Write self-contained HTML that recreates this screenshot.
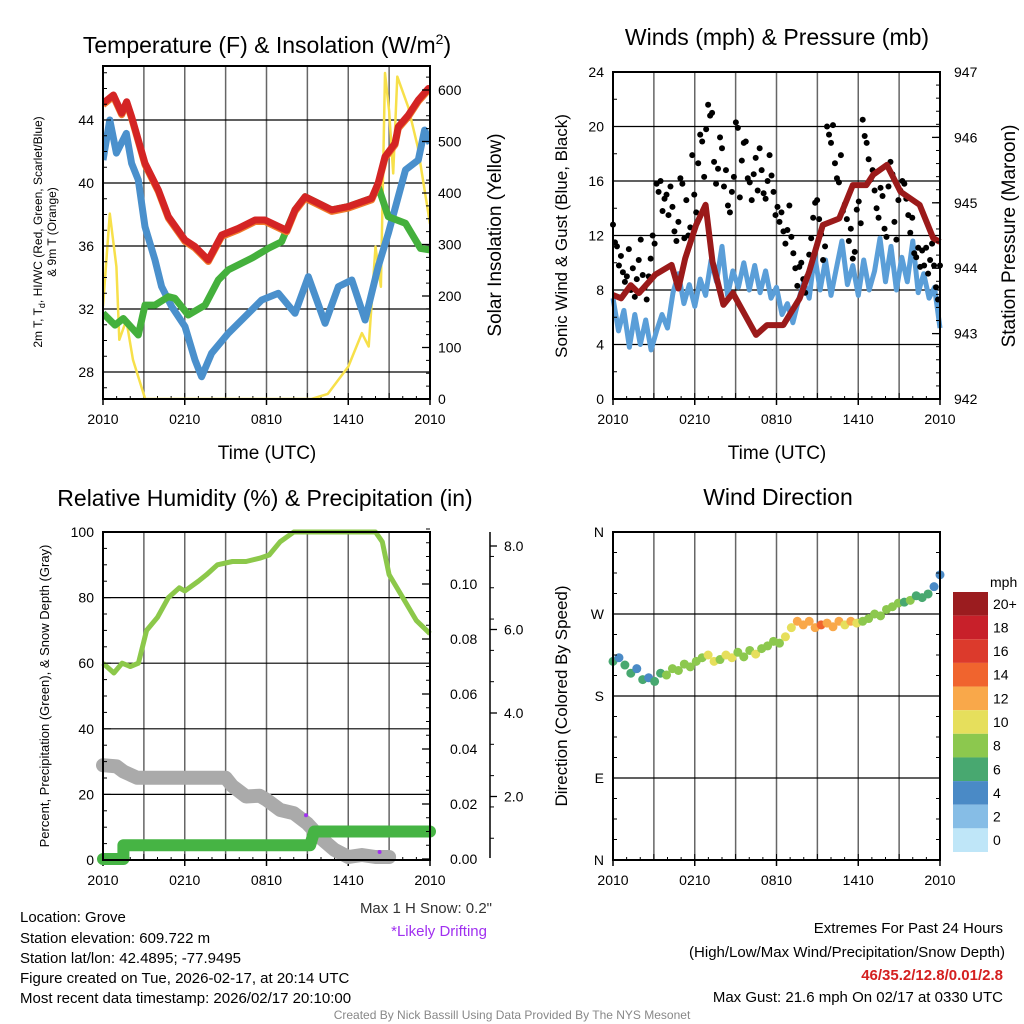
<!DOCTYPE html>
<html><head><meta charset="utf-8">
<style>
html,body{margin:0;padding:0;background:#fff;}
svg{display:block;font-family:"Liberation Sans",sans-serif;}
</style></head>
<body>
<svg id="c" width="1024" height="1024" viewBox="0 0 1024 1024">
<text x="267" y="53" font-size="23" text-anchor="middle">Temperature (F) &amp; Insolation (W/m<tspan font-size="14" dy="-9">2</tspan><tspan dy="9">)</tspan></text>
<text x="777" y="45" font-size="23" text-anchor="middle">Winds (mph) &amp; Pressure (mb)</text>
<text x="265" y="506" font-size="23" text-anchor="middle">Relative Humidity (%) &amp; Precipitation (in)</text>
<text x="778" y="505" font-size="23" text-anchor="middle">Wind Direction</text>

<text transform="translate(42,232) rotate(-90)" font-size="12" text-anchor="middle">2m T, T<tspan font-size="9" dy="3">d</tspan><tspan dy="-3">, HI/WC (Red, Green, Scarlet/Blue)</tspan></text>
<text transform="translate(56,232) rotate(-90)" font-size="12" text-anchor="middle">&amp; 9m T (Orange)</text>
<text transform="translate(501,235) rotate(-90)" font-size="19" text-anchor="middle">Solar Insolation (Yellow)</text>
<text transform="translate(567,236) rotate(-90)" font-size="17" text-anchor="middle">Sonic Wind &amp; Gust (Blue, Black)</text>
<text transform="translate(1015,236) rotate(-90)" font-size="19" text-anchor="middle">Station Pressure (Maroon)</text>
<text transform="translate(49,696) rotate(-90)" font-size="13" text-anchor="middle">Percent, Precipitation (Green), &amp; Snow Depth (Gray)</text>
<text transform="translate(567,696) rotate(-90)" font-size="17" text-anchor="middle">Direction (Colored By Speed)</text>

<text x="267" y="459" font-size="19" text-anchor="middle">Time (UTC)</text>
<text x="777" y="459" font-size="19" text-anchor="middle">Time (UTC)</text>

<g font-size="15">
<text x="20" y="922">Location: Grove</text>
<text x="20" y="943">Station elevation: 609.722 m</text>
<text x="20" y="963">Station lat/lon: 42.4895; -77.9495</text>
<text x="20" y="983">Figure created on Tue, 2026-02-17, at 20:14 UTC</text>
<text x="20" y="1003">Most recent data timestamp: 2026/02/17 20:10:00</text>
</g>
<text x="492" y="913" font-size="15" fill="#333" text-anchor="end">Max 1 H Snow: 0.2"</text>
<text x="487" y="936" font-size="15" fill="#a030f0" text-anchor="end">*Likely Drifting</text>
<g font-size="15" text-anchor="end">
<text x="1003" y="933">Extremes For Past 24 Hours</text>
<text x="1005" y="957">(High/Low/Max Wind/Precipitation/Snow Depth)</text>
<text x="1003" y="980" font-weight="bold" fill="#d42020">46/35.2/12.8/0.01/2.8</text>
<text x="1003" y="1002">Max Gust: 21.6 mph On 02/17 at 0330 UTC</text>
</g>
<text x="512" y="1019" font-size="12" fill="#888" text-anchor="middle">Created By Nick Bassill Using Data Provided By The NYS Mesonet</text>
</svg>
<script>
// ---- data ----
const xTickLabels = ["2010","0210","0810","1410","2010"];
const tempTicks = [28,32,36,40,44];
const solarTicks = [0,100,200,300,400,500,600];
const windTicks = [0,4,8,12,16,20,24];
const presTicks = [942,943,944,945,946,947];
const rhTicks = [0,20,40,60,80,100];
const precipTicks = ["0.00","0.02","0.04","0.06","0.08","0.10"];
const snowTicks = ["2.0","4.0","6.0","8.0"];
const dirTicks = ["N","E","S","W","N"];
const cbLabels = ["20+","18","16","14","12","10","8","6","4","2","0"];
const cbColors = ["#9b1c1f","#c8202a","#dc3a2c","#f0642e","#f9a84a","#e6df5c","#8cc84e","#48a870","#4a8ac6","#86bde6","#bfe6f8"];

const redT_h = [0,0.76,1.37,1.74,2.1,3.08,4.06,4.8,6.02,6.75,7.73,8.71,9.93,11.16,11.89,13.48,14.09,14.83,16.78,18.0,19.72,20.2,20.7,21.43,21.67,22.4,23.14,23.88,24];
const redT_v = [45.06,45.59,44.43,45.16,44.21,41.25,39.56,37.86,36.38,35.96,35.11,36.7,37.12,37.65,37.65,37.0,38.29,39.13,38.29,38.5,39.03,40.0,41.67,42.52,43.57,44.3,45.27,46.0,46.0];
const dewT_h = [0,0.88,1.49,2.59,3.08,3.82,4.8,5.28,6.26,7.49,8.46,9.2,10.91,12.13,13.11,14.09,14.83,16.78,18.0,19.72,20.2,20.94,22.2,23.3,24];
const dewT_v = [31.73,30.98,31.4,30.35,32.25,32.25,32.78,32.68,31.62,32.25,33.84,34.48,35.22,35.85,36.27,38.29,39.13,38.29,38.5,39.03,39.77,37.86,37.44,35.85,35.75];
const wcT_h = [0,0.5,0.98,1.71,2.1,2.59,3.08,3.82,4.3,5.04,6.02,6.75,7.24,7.97,9.2,10.42,11.65,12.87,14.09,15.07,16.3,17.28,18.26,19.24,20.2,20.94,22.2,23.14,23.6,24];
const wcT_v = [41.46,44.0,41.9,43.15,41.25,40.19,37.22,35.11,33.42,32.15,30.88,28.76,27.7,29.19,30.46,31.51,32.57,33.0,31.73,34.05,31.09,33.42,33.84,31.3,34.69,36.8,40.83,41.46,43.36,42.5];
const solar_h = [0,0.5,0.98,1.2,1.71,2.2,3.1,15.3,16.5,18.0,19.0,19.5,20.0,20.4,20.7,21.0,21.3,21.6,22.4,23.1,24];
const solar_v = [180,360,257,115,153,76,0,0,10,63,128,102,296,218,633,560,438,626,567,490,340];

// sonic wind, evenly spaced in time over 24 h
const sonic_v = [7.4,5.0,6.5,3.8,6.2,4.0,5.8,3.6,5.0,6.2,5.2,7.8,9.2,7.0,8.4,6.8,8.8,7.6,10.2,8.6,11.2,7.6,9.4,8.2,10.0,8.0,9.8,7.8,9.4,7.4,8.2,6.2,7.0,5.6,7.2,8.6,7.4,10.6,8.0,10.2,7.6,9.6,11.6,8.4,9.8,7.6,10.2,8.0,9.4,11.8,8.6,11.2,8.0,10.4,8.6,11.6,7.8,9.2,7.4,8.2,5.2];
const pres_h = [0,0.6,1.3,1.9,3.1,4.3,4.8,5.3,6.1,6.8,7.3,8.1,8.8,10.5,11.3,12.5,13.7,14.4,15.4,16.6,17.6,18.6,19.1,20.1,21.1,22.5,23.5,24];
const pres_v = [943.59,943.54,943.74,943.62,943.9,944.05,943.69,944.15,944.66,944.97,944.1,943.44,943.62,942.98,943.13,943.13,943.54,943.95,944.66,944.76,945.27,945.27,945.43,945.58,945.17,944.97,944.46,944.4];
const gusts = [12.8,11.5,11.2,9.8,10.5,9.3,8.6,9.0,11.0,8.0,9.6,7.5,8.8,10.2,11.7,9.1,8.2,7.3,9.0,10.3,12.0,11.4,
15.8,15.2,16.0,13.8,14.7,15.0,13.5,15.6,14.1,12.3,11.6,13.0,16.2,15.8,11.8,14.6,12.0,12.6,17.9,15.0,13.7,
17.3,19.4,18.9,16.3,19.8,21.6,20.8,21.0,17.4,15.8,16.9,19.2,18.4,15.6,16.8,14.2,13.7,15.2,16.3,20.3,19.9,14.8,17.5,
18.8,18.9,16.2,15.9,14.6,16.5,17.7,15.3,18.4,16.8,15.1,14.7,16.0,17.9,16.4,15.2,13.5,14.1,
13.0,13.7,12.3,11.4,12.4,14.2,11.9,10.7,9.6,8.3,9.7,10.0,8.8,7.8,9.0,10.6,11.8,13.3,14.4,14.6,13.2,12.1,10.2,11.2,
20.0,19.4,18.8,20.1,17.3,16.2,15.9,17.9,13.8,14.3,13.2,11.6,12.5,10.3,10.8,13.9,14.5,12.9,
20.5,19.3,18.8,17.6,16.1,16.8,15.3,14.0,13.3,15.5,14.9,12.5,11.9,15.6,17.4,16.5,13.0,11.7,14.6,15.3,16.0,
15.8,14.7,13.5,12.2,13.3,10.7,10.4,11.1,9.7,10.9,9.8,11.1,9.2,10.2,11.4,9.8,8.2,7.3,9.8];

const rh_h = [0,0.8,1.4,2,2.6,3.2,4,4.8,5.6,6,7,7.6,8.4,9.5,10.5,11.5,12.2,13,14,16,20,20.5,21,22,23,24];
const rh_v = [60,57,60,59,60,70,74,80,83,82,85,87,90,91,91,92,93,97,100,100,100,97,87,80,73,69];
const precip_h = [0,1.5,1.5,15.2,15.5,24];
const precip_v = [0,0,0.005,0.005,0.01,0.01];
const snow_h = [0,1,1.5,2.5,9,9.5,10.5,11.5,12,13,14,15,16,17,18,19,20,21];
const snow_v = [2.75,2.72,2.6,2.45,2.45,2.25,2.0,2.02,1.92,1.68,1.6,1.35,1.0,0.72,0.55,0.6,0.55,0.55];
const drift_h = [14.9,20.3];
const drift_v = [1.55,0.67];

const dir_v = [218,222,214,205,210,198,200,196,205,203,210,208,215,212,218,222,225,218,220,225,222,228,223,230,226,232,235,240,238,245,255,262,258,262,255,258,260,256,262,258,262,260,262,265,270,268,275,278,282,283,285,290,288,292,300,313];
const dir_s = [5,4,6,5,4,5,4,6,6,7,7,8,8,7,8,7,9,10,8,9,10,8,7,8,9,8,8,7,8,9,10,11,12,11,12,13,12,11,12,10,11,9,8,7,7,8,7,8,7,6,7,6,5,6,4,4];

// ---- helpers ----
const NS="http://www.w3.org/2000/svg";
const svg=document.getElementById('c');
function mk(tag,attrs,parent){const e=document.createElementNS(NS,tag);for(const k in attrs)e.setAttribute(k,attrs[k]);(parent||svg).appendChild(e);return e;}
function txt(x,y,s,size,anchor,parent){const t=mk('text',{x:x,y:y,'font-size':size,'text-anchor':anchor},parent);t.textContent=s;return t;}
function lin(d0,d1,r0,r1){return v=>r0+(v-d0)*(r1-r0)/(d1-d0);}
function pathD(hs,vs,fx,fy){return hs.map((h,i)=>(i?'L':'M')+fx(h).toFixed(1)+','+fy(vs[i]).toFixed(1)).join('');}
function evenH(arr){return arr.map((v,i)=>i*24/(arr.length-1));}
function speedColor(s){let idx=Math.min(10,Math.round(s/2));return cbColors[10-idx];}

function panelFrame(x0,y0,x1,y1,yl,ylab,fyl,name){
  const g=mk('g',{});
  
  
  const fx=lin(0,24,x0,x1);
  for(let h=3;h<24;h+=3){const l=mk('line',{x1:fx(h),y1:y0,x2:fx(h),y2:y1,stroke:'#666','stroke-width':1.5},g);
    
    }
  yl.forEach((v,i)=>{const y=fyl(v);
    if(y>y0+1&&y<y1-1){const l=mk('line',{x1:x0,y1:y,x2:x1,y2:y,stroke:'#000','stroke-width':1.2},g);
      
      }
    const t=txt(x0-9,y+5,ylab[i],14,'end',g);
    
    });
  xTickLabels.forEach((s,i)=>{const t=txt(fx(i*6),y1+25,s,14,'middle',g);
    
    
    mk('line',{x1:fx(i*6),y1:y1,x2:fx(i*6),y2:y1+6,stroke:'#000','stroke-width':1.5},g);});
  for(let h=1;h<24;h++){mk('line',{x1:fx(h),y1:y1,x2:fx(h),y2:y1-(h%3?3:6),stroke:'#000','stroke-width':1},g);}
  return {g,fx};
}
function frame(x0,y0,x1,y1,parent){const r=mk('rect',{x:x0,y:y0,width:x1-x0,height:y1-y0,fill:'none',stroke:'#000','stroke-width':2},parent);
  
  }
function rightAxis(x,ticks,labels,fy,minorStep,dmin,dmax,parent,lx){
  ticks.forEach((v,i)=>{const y=fy(v);mk('line',{x1:x,y1:y,x2:x-8,y2:y,stroke:'#000','stroke-width':1.3},parent);
    const t=txt(lx||x+8,y+5,labels[i],14,'start',parent);
    
    });
  for(let v=dmin;v<=dmax+1e-9;v+=minorStep){mk('line',{x1:x,y1:fy(v),x2:x-4,y2:fy(v),stroke:'#000','stroke-width':1},parent);}
}

// ===== Panel 1: temperature =====
(function(){
  const X0=103,X1=430,Y0=66,Y1=399;
  const fy=lin(28,44,372,120);
  const fs=lin(0,600,399,90);
  const p=panelFrame(X0,Y0,X1,Y1,tempTicks,tempTicks.map(String),fy,'temp-panel');
  const g=p.g,fx=p.fx;
  const clip=mk('clipPath',{id:'cp1'},g);mk('rect',{x:X0,y:Y0,width:X1-X0,height:Y1-Y0},clip);
  const d=mk('g',{'clip-path':'url(#cp1)'},g);
  let e;
  e=mk('path',{d:pathD(solar_h,solar_v,fx,fs),fill:'none',stroke:'#f7e04a','stroke-width':2.5,'stroke-linejoin':'round'},d);
  
  
  e=mk('path',{d:pathD(wcT_h,wcT_v,fx,fy),fill:'none',stroke:'#4a90cc','stroke-width':7,'stroke-linejoin':'round'},d);
  
  
  e=mk('path',{d:pathD(dewT_h,dewT_v,fx,fy),fill:'none',stroke:'#44b03c','stroke-width':7,'stroke-linejoin':'round'},d);
  
  
  e=mk('path',{d:pathD(redT_h,redT_v,fx,v=>fy(v)+1.5),fill:'none',stroke:'#f07a2a','stroke-width':7,'stroke-linejoin':'round'},d);
  
  
  e=mk('path',{d:pathD(redT_h,redT_v,fx,fy),fill:'none',stroke:'#d42424','stroke-width':7,'stroke-linejoin':'round'},d);
  
  
  rightAxis(X1,solarTicks,solarTicks.map(String),fs,25,0,640,g);
  for(let v=27;v<=47;v++){mk('line',{x1:X0,y1:fy(v),x2:X0+(v%4?4:8),y2:fy(v),stroke:'#000','stroke-width':1},g);}
  frame(X0,Y0,X1,Y1,g);
})();

// ===== Panel 2: winds =====
(function(){
  const X0=613,X1=940,Y0=72,Y1=399;
  const fy=lin(0,24,399,72);
  const fp=lin(942,947,399,72);
  const p=panelFrame(X0,Y0,X1,Y1,windTicks,windTicks.map(String),fy,'wind-panel');
  const g=p.g,fx=p.fx;
  let e=mk('path',{d:pathD(evenH(sonic_v),sonic_v,fx,fy),fill:'none',stroke:'#5a9ed8','stroke-width':5,'stroke-linejoin':'round'},g);
  
  
  gusts.forEach((v,i)=>{const c=mk('circle',{cx:fx(i*24/(gusts.length-1)),cy:fy(v),r:3,fill:'#000'},g);
    
    });
  e=mk('path',{d:pathD(pres_h,pres_v,fx,fp),fill:'none',stroke:'#9b1a1a','stroke-width':6,'stroke-linejoin':'round'},g);
  
  
  rightAxis(X1,presTicks,presTicks.map(String),fp,0.2,942,947,g,X1+14);
  for(let v=0;v<=24;v+=2){mk('line',{x1:X0,y1:fy(v),x2:X0+(v%4?4:8),y2:fy(v),stroke:'#000','stroke-width':1},g);}
  frame(X0,Y0,X1,Y1,g);
})();

// ===== Panel 3: RH / precip / snow =====
(function(){
  const X0=103,X1=430,Y0=532,Y1=860;
  const fy=lin(0,100,860,532);
  const fpr=lin(0,0.1,859,584);
  const fsn=lin(0,8,880,546);
  const p=panelFrame(X0,Y0,X1,Y1,rhTicks,rhTicks.map(String),fy,'rh-panel');
  const g=p.g,fx=p.fx;
  let e=mk('path',{d:pathD(snow_h,snow_v,fx,fsn),fill:'none',stroke:'#aaaaaa','stroke-width':14,'stroke-linejoin':'round','stroke-linecap':'round'},g);
  
  
  e=mk('path',{d:pathD(precip_h,precip_v,fx,fpr),fill:'none',stroke:'#46b444','stroke-width':12,'stroke-linejoin':'round','stroke-linecap':'round'},g);
  
  
  e=mk('path',{d:pathD(rh_h,rh_v,fx,fy),fill:'none',stroke:'#8cc84a','stroke-width':5,'stroke-linejoin':'round'},g);
  
  
  drift_h.forEach((h,i)=>{const c=mk('circle',{cx:fx(h),cy:fsn(drift_v[i]),r:2,fill:'#a030f0'},g);
    
    });
  rightAxis(X1,[0,0.02,0.04,0.06,0.08,0.10],precipTicks,fpr,0.005,0,0.12,g,X1+20);
  const ax=mk('line',{x1:490,y1:532,x2:490,y2:858,stroke:'#000','stroke-width':1.5},g);
  
  
  snowTicks.forEach(s=>{const y=fsn(parseFloat(s));mk('line',{x1:490,y1:y,x2:497,y2:y,stroke:'#000','stroke-width':1.3},g);
    const t=txt(504,y+5,s,14,'start',g);
    
    });
  for(let v=1;v<=8;v+=0.75){if(fsn(v)>532)mk('line',{x1:490,y1:fsn(v),x2:494,y2:fsn(v),stroke:'#000','stroke-width':1},g);}
  for(let v=0;v<=100;v+=5){mk('line',{x1:X0,y1:fy(v),x2:X0+(v%20?4:8),y2:fy(v),stroke:'#000','stroke-width':1},g);}
  frame(X0,Y0,X1,Y1,g);
})();

// ===== Panel 4: wind direction =====
(function(){
  const X0=613,X1=940,Y0=532,Y1=860;
  const fy=lin(0,360,860,532);
  const p=panelFrame(X0,Y0,X1,Y1,[0,90,180,270,360],dirTicks,fy,'direction-panel');
  const g=p.g,fx=p.fx;
  dir_v.forEach((v,i)=>{const c=mk('circle',{cx:fx(i*24/(dir_v.length-1)),cy:fy(v),r:4.5,fill:speedColor(dir_s[i])},g);
    
    });
  for(let v=0;v<=360;v+=22.5){mk('line',{x1:X0,y1:fy(v),x2:X0+(v%90?4:8),y2:fy(v),stroke:'#000','stroke-width':1},g);
    mk('line',{x1:X1,y1:fy(v),x2:X1-(v%90?4:8),y2:fy(v),stroke:'#000','stroke-width':1},g);}
  frame(X0,Y0,X1,Y1,g);
  const cb=mk('g',{});
  
  
  const t0=txt(990,587,'mph',14,'start',cb);
  
  
  const bh=260/cbColors.length;
  cbColors.forEach((c,i)=>{const r=mk('rect',{x:953,y:592+i*bh,width:35,height:bh,fill:c},cb);
    
    
    const t=txt(993,592+i*bh+bh/2+5,cbLabels[i],14,'start',cb);
    
    });
})();
</script>
</body></html>
